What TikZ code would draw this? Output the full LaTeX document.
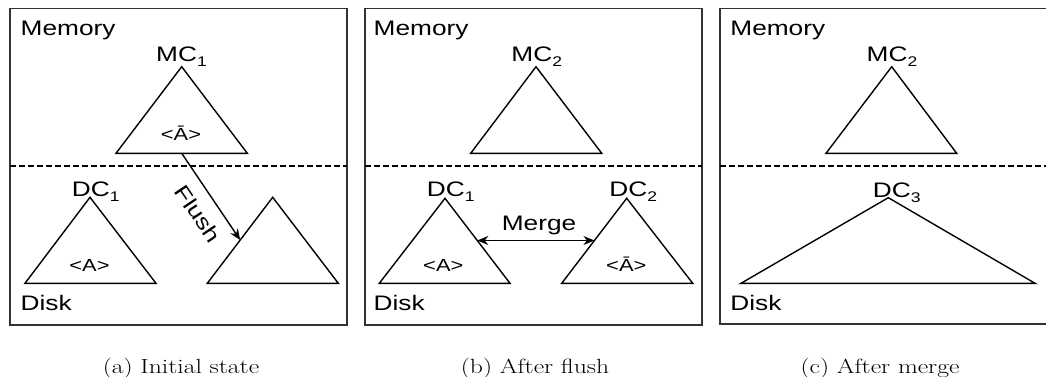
\documentclass[tikz,border=0pt]{standalone}
\usepackage{fontspec}
\newfontfamily\lsans{Liberation Sans}
\usetikzlibrary{arrows.meta}
\newcommand\W[1]{\scalebox{1.25}[1]{#1}}
\newcommand\subn[1]{\raisebox{-0.22em}{\fontsize{14}{14}\selectfont #1}}
\tikzset{
  lbl/.style={font=\lsans\fontsize{21}{21}\selectfont, inner sep=0pt, anchor=base},
  lblw/.style={lbl, anchor=base west},
  keylbl/.style={font=\lsans\fontsize{17.5}{17.5}\selectfont, inner sep=0pt, anchor=base},
  capt/.style={font=\fontsize{20.5}{20.5}\selectfont, inner sep=0pt, anchor=base},
  panel/.style={draw=black!80, line width=1.6pt},
  tri/.style={draw, line width=1.4pt, line join=miter},
  sepline/.style={line width=1.1pt, dash pattern=on 6pt off 3pt},
  conn/.style={line width=1.4pt, -{Stealth[length=11pt,width=9pt]}},
  dconn/.style={line width=1.4pt, {Stealth[length=11pt,width=9pt]}-{Stealth[length=11pt,width=9pt]}},
}
\begin{document}
\begin{tikzpicture}[x=1pt,y=-1pt]
\useasboundingbox (0,0) rectangle (1046,377);
\clip (0,0) rectangle (1046,377);
\fill[white] (0,0) rectangle (1046,377);

% ---------- panel (a) ----------
\draw[panel] (10,8.5) rectangle (347,325);
\draw[sepline] (10,166) -- (347,166);
\node[lblw] (memA) at (20.5,35.7) {\W{Memory}};
\node[lblw] (diskA) at (20.5,310.7) {\W{Disk}};
\coordinate (mc1t) at (181.7,66.7);
\coordinate (mc1l) at (116,153.3);
\coordinate (mc1r) at (247.3,153.3);
\draw[tri] (mc1t) -- (mc1l) -- (mc1r) -- cycle;
\node[lbl] (mc1lbl) at (181.5,61.7) {\W{MC\subn{1}}};
\node[keylbl] (mc1key) at (181,140) {\W{<Ā>}};
\coordinate (dc1t) at (90,197.3);
\coordinate (dc1l) at (25,283.3);
\coordinate (dc1r) at (156,283.3);
\draw[tri] (dc1t) -- (dc1l) -- (dc1r) -- cycle;
\node[lbl] (dc1lbl) at (95.8,196.5) {\W{DC\subn{1}}};
\node[keylbl] (dc1key) at (89.5,271) {\W{<A>}};
\coordinate (ntt) at (272.7,197.3);
\coordinate (ntl) at (207.3,283.3);
\coordinate (ntr) at (338.3,283.3);
\draw[tri] (ntt) -- (ntl) -- (ntr) -- cycle;
\coordinate (fs) at (181.7,153.3);
\coordinate (fe) at (240.2,240);
\draw[conn] (fs) -- node[lbl, anchor=north, sloped, pos=0.57, below=12pt] (flushlbl) {\W{Flush}} (fe);
\node[capt] (capA) at (181,373) {\W{(a) Initial state}};

% ---------- panel (b) ----------
\draw[panel] (365,8.5) rectangle (701.7,325);
\draw[sepline] (365,166) -- (701.7,166);
\node[lblw] (memB) at (373.5,35.7) {\W{Memory}};
\node[lblw] (diskB) at (373.5,310.7) {\W{Disk}};
\coordinate (mc2t) at (536,66.7);
\coordinate (mc2l) at (470.7,153.3);
\coordinate (mc2r) at (601.7,153.3);
\draw[tri] (mc2t) -- (mc2l) -- (mc2r) -- cycle;
\node[lbl] (mc2lbl) at (536.7,61.7) {\W{MC\subn{2}}};
\coordinate (dbt) at (445,198.3);
\coordinate (dbl) at (379.3,283.3);
\coordinate (dbr) at (510,283.3);
\draw[tri] (dbt) -- (dbl) -- (dbr) -- cycle;
\node[lbl] (db1lbl) at (450.8,196.5) {\W{DC\subn{1}}};
\node[keylbl] (db1key) at (443.3,271) {\W{<A>}};
\coordinate (d2t) at (626.7,198.3);
\coordinate (d2l) at (561.7,283.3);
\coordinate (d2r) at (692.7,283.3);
\draw[tri] (d2t) -- (d2l) -- (d2r) -- cycle;
\node[lbl] (db2lbl) at (633.3,196.5) {\W{DC\subn{2}}};
\node[keylbl] (db2key) at (626.3,271) {\W{<Ā>}};
\coordinate (ml) at (477.3,240.5);
\coordinate (mr) at (594.4,240.5);
\draw[dconn] (ml) -- (mr);
\node[lbl] (mergelbl) at (539,230.7) {\W{Merge}};
\node[capt] (capB) at (535,373) {\W{(b) After flush}};

% ---------- panel (c) ----------
\draw[panel] (720,8.5) rectangle (1058,324);
\draw[sepline] (720,166) -- (1058,166);
\node[lblw] (memC) at (730.2,35.7) {\W{Memory}};
\node[lblw] (diskC) at (730.2,310.7) {\W{Disk}};
\coordinate (mc3t) at (891.7,66.7);
\coordinate (mc3l) at (826,153.3);
\coordinate (mc3r) at (956.7,153.3);
\draw[tri] (mc3t) -- (mc3l) -- (mc3r) -- cycle;
\node[lbl] (mc3lbl) at (892,61.7) {\W{MC\subn{2}}};
\coordinate (d3t) at (888.3,197.7);
\coordinate (d3l) at (741,283.3);
\coordinate (d3r) at (1035,283.3);
\draw[tri] (d3t) -- (d3l) -- (d3r) -- cycle;
\node[lbl] (d3lbl) at (896.7,197.5) {\W{DC\subn{3}}};
\node[capt] (capC) at (880,373) {\W{(c) After merge}};
\end{tikzpicture}
\end{document}
